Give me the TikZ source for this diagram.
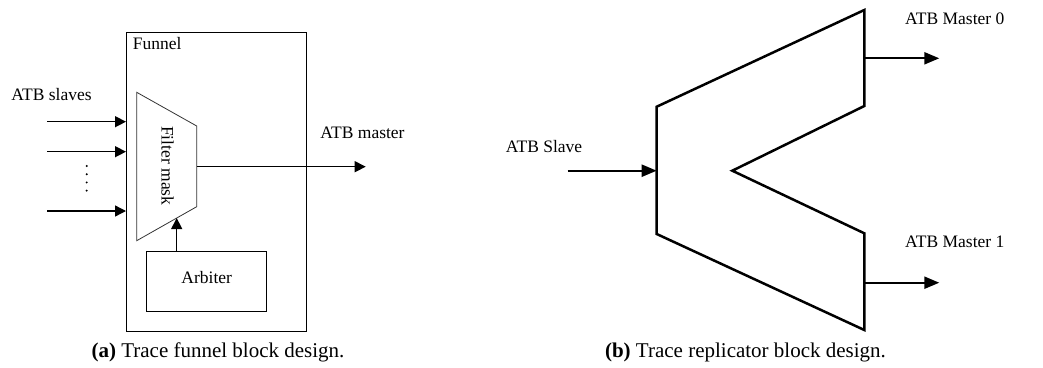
\documentclass[tikz,border=0pt]{standalone}
\usepackage{fontspec}
\setmainfont{Liberation Serif}
\usetikzlibrary{arrows.meta,positioning,calc}

\begin{document}
\begin{tikzpicture}[x=1pt,y=-1pt,
    every node/.style={font=\fontsize{17.5}{20}\selectfont},
    block/.style={draw,line width=0.8pt,inner sep=0pt},
    port/.style={line width=1.4pt,-{Triangle[length=11pt,width=11pt]}},
    bigport/.style={line width=2.2pt,-{Triangle[length=15pt,width=12pt]}},
    caption/.style={font=\fontsize{21}{24}\selectfont}]
    \useasboundingbox (0,0) rectangle (1043,367);

    % (a) funnel
    \node[block,line width=1.4pt,minimum width=180pt,minimum height=299pt] (funnel) at (216.7,181.7) {};
    \node[anchor=north west,inner sep=0pt] (funnellbl) at (132.7,37.5) {Funnel};

    \coordinate (fa) at (136.7,92.3);
    \coordinate (fb) at (196.7,126);
    \coordinate (fc) at (196.7,206.7);
    \coordinate (fd) at (136.7,240.7);
    \draw[line width=0.8pt,black!80] (fa) -- (fb) -- (fc) -- (fd) -- cycle;
    \node[rotate=-90] (mask) at (167.7,165.7) {Filter mask};

    \node[block,minimum width=120pt,minimum height=60pt] (arb) at (206.7,281) {};
    \node (arblbl) at (206.7,277.7) {Arbiter};
    \coordinate (fm) at ($(fd)!2/3!(fc)$);
    \draw[port] (arb.north -| fm) -- (fm);

    \node (slaves) at (51.5,94.3) {ATB slaves};
    \coordinate (s1) at (47.3,121.7);
    \coordinate (s2) at (47.3,151.7);
    \coordinate (s3) at (47.3,211);
    \foreach \s in {s1,s2,s3}
        \draw[port] (\s) -- (\s -| funnel.west);
    \foreach \i in {0,...,3}
        \fill (86.7,166+8.2*\i) circle (1.1pt);

    \coordinate (fo) at (196.7,166.7);
    \coordinate (mout) at (365.7,166.7);
    \draw[port] (fo) -- (mout);
    \node (master) at (362.5,133.3) {ATB master};

    \node[caption] (capa) at (218,352) {\textbf{(a)} Trace funnel block design.};

    % (b) replicator
    \coordinate (r1) at (656.7,106.7);
    \coordinate (r2) at (864.3,10);
    \coordinate (r3) at (864.3,106);
    \coordinate (r4) at (732.3,170.7);
    \coordinate (r5) at (864.3,233.3);
    \coordinate (r6) at (864.3,330);
    \coordinate (r7) at (656.7,234);
    \draw[line width=2.5pt,line join=miter] (r1) -- (r2) -- (r3) -- (r4) -- (r5) -- (r6) -- (r7) -- cycle;

    \coordinate (sin) at (567.7,170.7);
    \draw[bigport] (sin) -- (sin -| r1);
    \node (slave) at (544,146.7) {ATB Slave};

    \coordinate (m0) at (939.3,58.3);
    \coordinate (m1) at (939.3,282.7);
    \draw[bigport] (m0 -| r2) -- (m0);
    \draw[bigport] (m1 -| r6) -- (m1);
    \node[anchor=west,inner sep=0pt] (master0) at (905,19) {ATB Master 0};
    \node[anchor=west,inner sep=0pt] (master1) at (905,242.3) {ATB Master 1};

    \node[caption] (capb) at (745.5,352) {\textbf{(b)} Trace replicator block design.};
\end{tikzpicture}
\end{document}
